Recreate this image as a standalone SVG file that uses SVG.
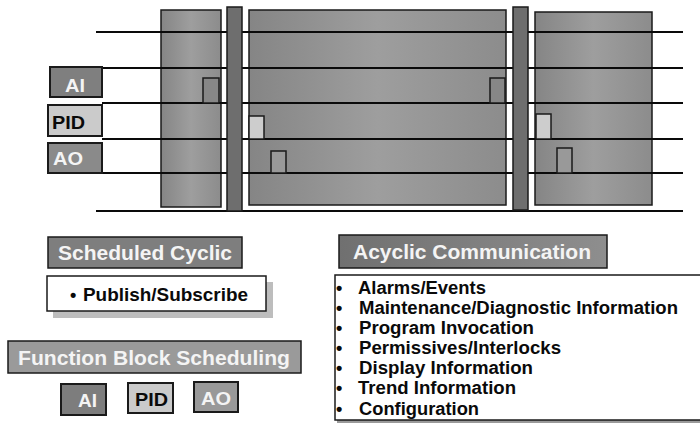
<svg xmlns="http://www.w3.org/2000/svg" width="700" height="425" viewBox="0 0 700 425">
  <style>
    .block { stroke: #1a1a1a; stroke-width: 1.5; }
    .pillar { fill: #6e6e6e; stroke: #1a1a1a; stroke-width: 1.5; }
    .wire { stroke: #0a0a0a; stroke-width: 2.2; fill: none; }
    .fb { stroke: #1a1a1a; stroke-width: 1.5; }
    .ai { fill: #878787; }
    .pid { fill: #cdcdcd; }
    .ao { fill: #999999; }
    .tag { stroke: #1a1a1a; stroke-width: 2; }
    .hdr { stroke: #1a1a1a; stroke-width: 1.5; }
    .t { font-family: "Liberation Sans", Arial, sans-serif; font-weight: bold; }
    .w { fill: #f4f4f4; }
    .k { fill: #0a0a0a; }
  </style>
  <defs>
    <linearGradient id="shade" x1="0" y1="0" x2="1" y2="0">
      <stop offset="0" stop-color="#858585"/>
      <stop offset="0.5" stop-color="#9e9e9e"/>
      <stop offset="1" stop-color="#8c8c8c"/>
    </linearGradient>
    <linearGradient id="hdrShade" x1="0" y1="0" x2="1" y2="0">
      <stop offset="0" stop-color="#707070"/>
      <stop offset="1" stop-color="#8e8e8e"/>
    </linearGradient>
  </defs>

  <!-- macrocycle segments -->
  <g id="segment-1"><rect class="block" x="161" y="10" width="60" height="197" fill="url(#shade)"/></g>
  <g id="segment-2"><rect class="block" x="249" y="10" width="257" height="195" fill="url(#shade)"/></g>
  <g id="segment-3"><rect class="block" x="535" y="12" width="117" height="193" fill="url(#shade)"/></g>

  <!-- timeline rails -->
  <g id="connectors">
    <line class="wire" x1="96" y1="32" x2="683" y2="32"/>
    <line class="wire" x1="102" y1="68" x2="683" y2="68"/>
    <line class="wire" x1="102" y1="103" x2="683" y2="103"/>
    <line class="wire" x1="102" y1="139" x2="683" y2="139"/>
    <line class="wire" x1="102" y1="173" x2="683" y2="173"/>
    <line class="wire" x1="96" y1="211" x2="683" y2="211"/>
  </g>

  <!-- cycle boundaries -->
  <g id="boundary-1"><rect class="pillar" x="227" y="7" width="15" height="204"/></g>
  <g id="boundary-2"><rect class="pillar" x="513" y="7" width="15" height="203"/></g>

  <!-- block execution slots -->
  <g id="exec-ai-1"><rect class="fb ai" x="203" y="78" width="16" height="25"/></g>
  <g id="exec-pid-1"><rect class="fb pid" x="249" y="116" width="15" height="23"/></g>
  <g id="exec-ao-1"><rect class="fb ao" x="271" y="151" width="15" height="22"/></g>
  <g id="exec-ai-2"><rect class="fb ai" x="490" y="78" width="15" height="25"/></g>
  <g id="exec-pid-2"><rect class="fb pid" x="536" y="114" width="15" height="25"/></g>
  <g id="exec-ao-2"><rect class="fb ao" x="557" y="148" width="15" height="25"/></g>

  <!-- row labels -->
  <g id="row-ai">
    <rect class="tag" x="50" y="67" width="52" height="30" fill="#7f7f7f"/>
    <text class="t w" x="65" y="92" font-size="18" textLength="20" lengthAdjust="spacingAndGlyphs">AI</text>
  </g>
  <g id="row-pid">
    <rect class="tag" x="48" y="105" width="54" height="31" fill="#cbcbcb"/>
    <text class="t k" x="52" y="129" font-size="18" textLength="33" lengthAdjust="spacingAndGlyphs">PID</text>
  </g>
  <g id="row-ao">
    <rect class="tag" x="48" y="143" width="54" height="30" fill="#8a8a8a"/>
    <text class="t w" x="53" y="165" font-size="18" textLength="30" lengthAdjust="spacingAndGlyphs">AO</text>
  </g>

  <!-- scheduled cyclic -->
  <g id="scheduled-cyclic">
    <rect class="hdr" x="48" y="237" width="194" height="31" fill="#7e7e7e"/>
    <text class="t w" x="58" y="260" font-size="20" textLength="174" lengthAdjust="spacingAndGlyphs">Scheduled Cyclic</text>
  </g>
  <g id="publish-subscribe">
    <rect x="53" y="282" width="220" height="36" fill="#bdbdbd"/>
    <rect x="47" y="276" width="219" height="35" fill="#ffffff" stroke="#1a1a1a" stroke-width="1.5"/>
    <text class="t k" x="70" y="301" font-size="18">•</text>
    <text class="t k" x="83" y="301" font-size="18.5" textLength="165" lengthAdjust="spacingAndGlyphs">Publish/Subscribe</text>
  </g>

  <!-- function block scheduling -->
  <g id="fb-scheduling">
    <rect class="hdr" x="8" y="341" width="293" height="32" fill="#9a9a9a"/>
    <text class="t w" x="18" y="365" font-size="21" textLength="272" lengthAdjust="spacingAndGlyphs">Function Block Scheduling</text>
  </g>
  <g id="fb-ai">
    <rect class="tag" x="61" y="384" width="45" height="31" fill="#7d7d7d"/>
    <text class="t w" x="78" y="407" font-size="18" textLength="19" lengthAdjust="spacingAndGlyphs">AI</text>
  </g>
  <g id="fb-pid">
    <rect class="tag" x="128" y="383" width="45" height="30" fill="#cacaca"/>
    <text class="t k" x="135" y="406" font-size="18" textLength="33" lengthAdjust="spacingAndGlyphs">PID</text>
  </g>
  <g id="fb-ao">
    <rect class="tag" x="194" y="382" width="44" height="30" fill="#999999"/>
    <text class="t w" x="201" y="405" font-size="18" textLength="30" lengthAdjust="spacingAndGlyphs">AO</text>
  </g>

  <!-- acyclic communication -->
  <g id="acyclic">
    <rect class="hdr" x="339" y="235" width="268" height="33" fill="url(#hdrShade)"/>
    <text class="t w" x="353" y="259" font-size="20" textLength="238" lengthAdjust="spacingAndGlyphs">Acyclic Communication</text>
  </g>
  <g id="acyclic-list">
    <rect x="337" y="278" width="380" height="145" fill="#9a9a9a"/>
    <rect x="335" y="275" width="380" height="145" fill="#ffffff" stroke="#1a1a1a" stroke-width="1.5"/>
    <g class="t k" font-size="18">
      <text x="336" y="294">•</text>
      <text x="358" y="294" textLength="128" lengthAdjust="spacingAndGlyphs">Alarms/Events</text>
      <text x="336" y="314">•</text>
      <text x="359" y="314" textLength="319" lengthAdjust="spacingAndGlyphs">Maintenance/Diagnostic Information</text>
      <text x="336" y="334">•</text>
      <text x="359" y="334" textLength="175" lengthAdjust="spacingAndGlyphs">Program Invocation</text>
      <text x="336" y="354">•</text>
      <text x="359" y="354" textLength="202" lengthAdjust="spacingAndGlyphs">Permissives/Interlocks</text>
      <text x="336" y="374">•</text>
      <text x="359" y="374" textLength="174" lengthAdjust="spacingAndGlyphs">Display Information</text>
      <text x="336" y="394">•</text>
      <text x="358" y="394" textLength="158" lengthAdjust="spacingAndGlyphs">Trend Information</text>
      <text x="336" y="415">•</text>
      <text x="359" y="415" textLength="120" lengthAdjust="spacingAndGlyphs">Configuration</text>
    </g>
  </g>
</svg>
